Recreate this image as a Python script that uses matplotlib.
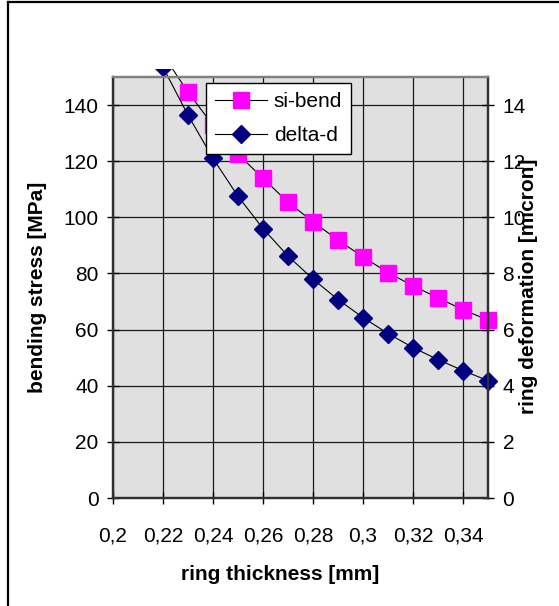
import matplotlib
matplotlib.use("Agg")
import matplotlib.pyplot as plt
from matplotlib.lines import Line2D
from matplotlib.patches import Rectangle
from matplotlib.ticker import FixedLocator, FuncFormatter

plt.rcParams['font.family'] = ['Liberation Sans', 'DejaVu Sans']

# data
thickness = [0.22, 0.23, 0.24, 0.25, 0.26, 0.27, 0.28, 0.29, 0.30, 0.31, 0.32, 0.33, 0.34, 0.35]
si_bend = [158.0, 144.6, 132.8, 122.5, 113.9, 105.4, 98.4, 91.9, 85.9, 80.3, 75.6, 71.3, 67.1, 63.4]
delta_d = [15.35, 13.64, 12.10, 10.75, 9.60, 8.62, 7.80, 7.07, 6.43, 5.86, 5.36, 4.93, 4.54, 4.18]
x_ticks = [0.20, 0.22, 0.24, 0.26, 0.28, 0.30, 0.32, 0.34]
left_ticks = [0, 20, 40, 60, 80, 100, 120, 140]
right_ticks = [0, 2, 4, 6, 8, 10, 12, 14]

W, H = 559, 606
fig = plt.figure(figsize=(W / 100, H / 100), dpi=100)
fig.patch.set_facecolor('white')

L, R, T, B = 113, 488, 77, 498
ax = fig.add_axes([L / W, 1 - B / H, (R - L) / W, (B - T) / H])
ax.set_facecolor('#E0E0E0')
ax.set_xlim(0.2, 0.35)
ax.set_ylim(0, 150)
ax2 = ax.twinx()
ax2.set_ylim(0, 15)

ax.xaxis.set_major_locator(FixedLocator(x_ticks))
ax.yaxis.set_major_locator(FixedLocator(left_ticks))
ax2.yaxis.set_major_locator(FixedLocator(right_ticks))

def comma(v, pos):
    s = ('%.2f' % v).rstrip('0').rstrip('.')
    return s.replace('.', ',')

ax.xaxis.set_major_formatter(FuncFormatter(comma))

ax.grid(True, color='#1a1a1a', linewidth=0.9)
ax.set_axisbelow(True)

fs = 15
ax.tick_params(axis='x', direction='inout', length=9, width=1, pad=16, labelsize=fs, colors='black')
ax.tick_params(axis='y', direction='inout', length=9, width=1, pad=6, labelsize=fs, colors='black')
ax2.tick_params(axis='y', direction='inout', length=9, width=1, pad=6, labelsize=fs, colors='black')

for a in (ax, ax2):
    for s in ('left', 'bottom', 'right'):
        a.spines[s].set_color('#303030')
        a.spines[s].set_linewidth(1.6)
    a.spines['top'].set_color('#808080')
    a.spines['top'].set_linewidth(1.6)

clip1 = Rectangle((-0.05, 0), 1.1, 1.02, transform=ax.transAxes)
clip2 = Rectangle((-0.05, 0), 1.1, 1.02, transform=ax2.transAxes)

l1, = ax.plot(thickness, si_bend, color='black', linewidth=0.8, marker='s',
              markersize=11.5, markerfacecolor='#FF00FF', markeredgecolor='#FF00FF',
              label='si-bend')
l1.set_clip_path(clip1)
l2, = ax2.plot(thickness, delta_d, color='black', linewidth=0.8, marker='D',
               markersize=9, markerfacecolor='#000080', markeredgecolor='#000080',
               label='delta-d')
l2.set_clip_path(clip2)

leg = ax2.legend(handles=[l1, l2], loc='upper left',
                 bbox_to_anchor=(206 / W, 1 - 83 / H), bbox_transform=fig.transFigure,
                 borderaxespad=0, fancybox=False, shadow=False, framealpha=1,
                 edgecolor='black', fontsize=fs, handlelength=2.5, handletextpad=0.3,
                 labelspacing=0.7, borderpad=0.45, numpoints=1)
leg.get_frame().set_linewidth(1.0)

fig.text(280 / W, 1 - 575 / H, 'ring thickness [mm]', ha='center', va='center',
         fontsize=15, fontweight='bold')
fig.text(38 / W, 1 - 287 / H, 'bending stress [MPa]', ha='center', va='center',
         rotation=90, fontsize=15, fontweight='bold')
fig.text(529 / W, 1 - 286 / H, 'ring deformation [micron]', ha='center', va='center',
         rotation=90, fontsize=15, fontweight='bold')

# outer chart frame (partially visible)
fig.add_artist(Line2D([8 / W, 1], [1 - 2 / H, 1 - 2 / H], color='black', linewidth=1.6,
                      transform=fig.transFigure))
fig.add_artist(Line2D([8 / W, 8 / W], [1 - 2 / H, 0], color='black', linewidth=1.6,
                      transform=fig.transFigure))

fig.savefig('out.png', dpi=100)
